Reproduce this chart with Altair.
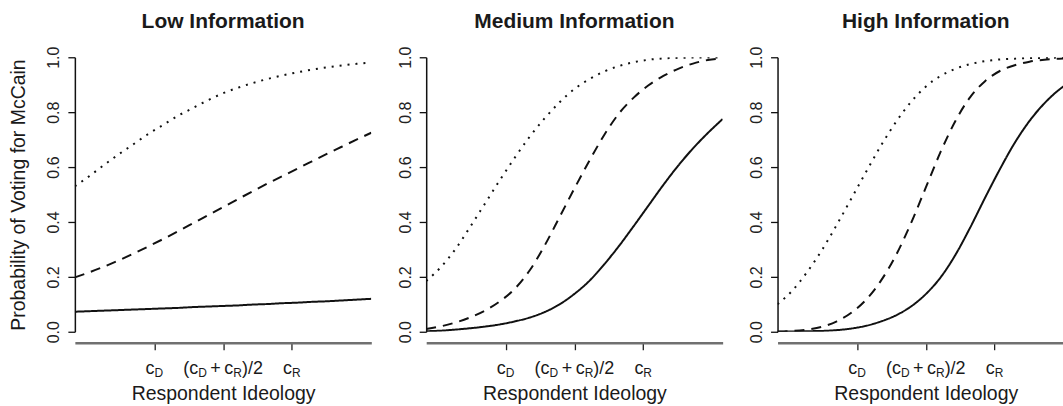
import altair as alt
import pandas as pd

# ---------------- data ----------------
X = [0.00, 0.05, 0.10, 0.15, 0.20, 0.25, 0.30, 0.35, 0.40, 0.45, 0.50,
     0.55, 0.60, 0.65, 0.70, 0.75, 0.80, 0.85, 0.90, 0.95, 1.00]

LOW_SOLID = [0.073, 0.075, 0.077, 0.079, 0.081, 0.083, 0.085, 0.087, 0.090, 0.092, 0.094,
             0.096, 0.099, 0.101, 0.104, 0.106, 0.109, 0.111, 0.114, 0.117, 0.120]
LOW_DASHED = [0.198, 0.217, 0.238, 0.261, 0.286, 0.312, 0.339, 0.367, 0.396, 0.425, 0.454,
              0.483, 0.512, 0.540, 0.567, 0.594, 0.621, 0.648, 0.674, 0.700, 0.725]
LOW_DOTTED = [0.530, 0.568, 0.609, 0.648, 0.685, 0.722, 0.755, 0.788, 0.816, 0.844, 0.869,
              0.889, 0.906, 0.921, 0.934, 0.945, 0.955, 0.963, 0.970, 0.976, 0.981]

MED_SOLID = [0.002, 0.004, 0.008, 0.013, 0.019, 0.027, 0.038, 0.052, 0.072, 0.100, 0.138,
             0.185, 0.245, 0.312, 0.385, 0.460, 0.535, 0.605, 0.668, 0.724, 0.775]
MED_DASHED = [0.010, 0.020, 0.034, 0.053, 0.078, 0.112, 0.158, 0.225, 0.315, 0.418, 0.522,
              0.622, 0.716, 0.795, 0.853, 0.898, 0.932, 0.958, 0.977, 0.990, 0.996]
MED_DOTTED = [0.185, 0.236, 0.303, 0.385, 0.470, 0.555, 0.636, 0.712, 0.778, 0.836, 0.884,
              0.920, 0.948, 0.968, 0.982, 0.991, 0.996, 0.998, 0.999, 0.999, 1.000]

HIGH_SOLID = [0.000, 0.001, 0.002, 0.003, 0.006, 0.012, 0.022, 0.038, 0.060, 0.092, 0.137,
              0.198, 0.280, 0.380, 0.488, 0.592, 0.688, 0.768, 0.832, 0.882, 0.918]
HIGH_DASHED = [0.001, 0.003, 0.008, 0.018, 0.038, 0.070, 0.118, 0.188, 0.280, 0.395, 0.525,
               0.655, 0.768, 0.855, 0.913, 0.950, 0.971, 0.984, 0.991, 0.995, 0.998]
HIGH_DOTTED = [0.100, 0.150, 0.218, 0.298, 0.390, 0.487, 0.585, 0.680, 0.765, 0.837, 0.893,
               0.932, 0.958, 0.975, 0.986, 0.992, 0.995, 0.997, 0.998, 0.999, 1.000]

TITLES = ["Low Information", "Medium Information", "High Information"]
CURVES = ["solid", "dashed", "dotted"]
TICKS = [0.268, 0.500, 0.732]          # c_D, (c_D+c_R)/2, c_R
Y_TICKS = [0.0, 0.2, 0.4, 0.6, 0.8, 1.0]
# tick labels as (text, is_subscript, gap before) pieces
TICK_LABELS = [
    [("c", False, 0), ("D", True, 0)],
    [("(c", False, 0), ("D", True, 0), ("+", False, 3.5), ("c", False, 3.5),
     ("R", True, 0), (")/2", False, 0)],
    [("c", False, 0), ("R", True, 0)],
]

# ---------------- styling ----------------
FONT = "Liberation Sans"
PLOT_W = 297
LAST_W = 286
PLOT_H = 275
MAIN_FS = 18
SUB_FS = 12
ADV = {"c": 0.5, "(": 0.333, ")": 0.333, "+": 0.584, "/": 0.278, "2": 0.556,
       "D": 0.722, "R": 0.722}


def text_width(s, fs):
    return sum(ADV[ch] for ch in s) * fs


def label_table():
    rows = []
    for tick, parts in zip(TICKS, TICK_LABELS):
        widths = [g + text_width(t, SUB_FS if sub else MAIN_FS) for t, sub, g in parts]
        total = sum(widths)
        pos = -total / 2
        for (t, sub, g), w in zip(parts, widths):
            pos += g
            rows.append({"x": tick + pos / PLOT_W, "text": t, "sub": sub})
            pos += w - g
    return pd.DataFrame(rows)


def panel(i, series, width, xmax, first):
    rows = []
    for name, vals in zip(CURVES, series):
        for x, v in zip(X, vals):
            rows.append({"x": x, "p": v, "curve": name})
    df = pd.DataFrame(rows)
    xscale = alt.Scale(domain=[0, xmax], nice=False, zero=False)
    yscale = alt.Scale(domain=[0, 1], nice=False)

    x_axis = alt.Axis(values=TICKS, labels=False, tickSize=7, tickColor="#222222",
                      tickWidth=1.3, domainColor="#707070", domainWidth=2.5, offset=11,
                      grid=False, title="Respondent Ideology", titleX=148.5, titleY=57,
                      titleBaseline="alphabetic", titleAlign="center",
                      titleFontSize=19.5, titleFontWeight="normal", titleColor="#1a1a1a",
                      titleFont=FONT)
    y_axis = alt.Axis(values=Y_TICKS, format=".1f", labelAngle=270, labelAlign="center",
                      labelBaseline="alphabetic", labelPadding=9, labelFontSize=16,
                      labelColor="#222222", labelFont=FONT, tickSize=7, tickColor="#111111",
                      tickWidth=1.3, domainColor="#111111", domainWidth=1.5, grid=False,
                      title="Probability of Voting for McCain" if first else None,
                      titleX=-50, titleY=PLOT_H / 2, titleAngle=270,
                      titleBaseline="alphabetic", titleAlign="center",
                      titleFontSize=19.5, titleFontWeight="normal", titleColor="#1a1a1a",
                      titleFont=FONT)

    lines = alt.Chart(df).mark_line(strokeWidth=2, color="#111111", interpolate="monotone",
                                    clip=True, strokeCap="butt").encode(
        x=alt.X("x:Q", scale=xscale, axis=x_axis),
        y=alt.Y("p:Q", scale=yscale, axis=y_axis),
        detail="curve:N",
        strokeDash=alt.StrokeDash("curve:N", legend=None,
                                  scale=alt.Scale(domain=CURVES,
                                                  range=[[1, 0], [10, 7], [2, 6]])),
    )
    labs = label_table()
    main = alt.Chart(labs).transform_filter("!datum.sub").mark_text(
        align="left", baseline="alphabetic", fontSize=MAIN_FS, font=FONT, color="#1a1a1a"
    ).encode(x=alt.X("x:Q", scale=xscale), y=alt.value(317), text="text:N")
    sub = alt.Chart(labs).transform_filter("datum.sub").mark_text(
        align="left", baseline="alphabetic", fontSize=SUB_FS, font=FONT, color="#1a1a1a"
    ).encode(x=alt.X("x:Q", scale=xscale), y=alt.value(320.5), text="text:N")

    return alt.layer(lines, main, sub).properties(
        width=width, height=PLOT_H,
        title=alt.TitleParams(TITLES[i], fontSize=21, fontWeight="bold", font=FONT,
                              color="#1a1a1a", anchor="middle", baseline="alphabetic",
                              frame="group", offset=-3, dx=(PLOT_W - width) / 2),
    )


p1 = panel(0, [LOW_SOLID, LOW_DASHED, LOW_DOTTED], PLOT_W, 1.0, True)
p2 = panel(1, [MED_SOLID, MED_DASHED, MED_DOTTED], PLOT_W, 1.0, False)
p3 = panel(2, [HIGH_SOLID, HIGH_DASHED, HIGH_DOTTED], LAST_W, LAST_W / PLOT_W, False)

chart = alt.hconcat(p1, p2, p3, spacing=55, bounds="flush").properties(
    padding={"left": 8, "top": 10, "right": 0, "bottom": 0},
    background="white",
).configure_view(strokeWidth=0)

chart.save("out.html", embed_options={"renderer": "svg", "actions": False})
